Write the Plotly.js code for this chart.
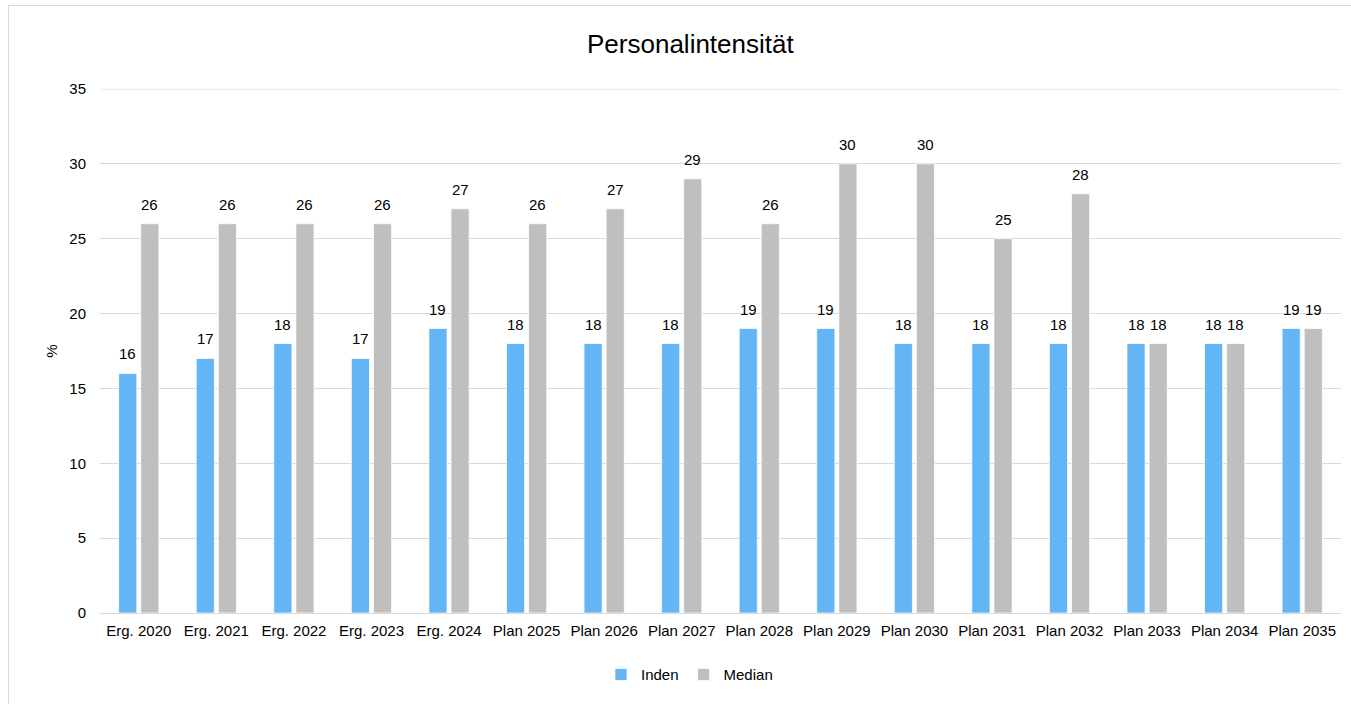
<!DOCTYPE html>
<html>
<head>
<meta charset="utf-8">
<script src="https://cdn.plot.ly/plotly-3.0.1.min.js"></script>
<style>
  html, body { margin: 0; padding: 0; background: #ffffff; }
  #frame { position: absolute; left: 8px; top: 5px; width: 1360px; height: 720px; border: 1px solid #d9d9d9; box-sizing: border-box; }
  #chart { position: absolute; left: 0; top: 0; width: 1351px; height: 704px; }
</style>
</head>
<body>
<div id="frame"></div>
<div id="chart"></div>
<script>
const categories = ["Erg. 2020","Erg. 2021","Erg. 2022","Erg. 2023","Erg. 2024","Plan 2025","Plan 2026","Plan 2027","Plan 2028","Plan 2029","Plan 2030","Plan 2031","Plan 2032","Plan 2033","Plan 2034","Plan 2035"];
const indenValues = [16,17,18,17,19,18,18,18,19,19,18,18,18,18,18,19];
const medianValues = [26,26,26,26,27,26,27,29,26,30,30,25,28,18,18,19];
const yTicks = [0,5,10,15,20,25,30,35];

const font = "Liberation Sans, Arial, sans-serif";
const labelColor = "#000000";
const bargap = 0.43;
const barOffset = (1 - bargap) / 4; // centre of each bar relative to its category

const traces = [
  {
    type: "bar", name: "Inden", x: categories, y: indenValues,
    marker: {color: "#63b5f5", line: {color: "#ffffff", width: 0.75}},
    hoverinfo: "x+y"
  },
  {
    type: "bar", name: "Median", x: categories, y: medianValues,
    marker: {color: "#bfbfbf", line: {color: "#ffffff", width: 0.75}},
    hoverinfo: "x+y"
  }
];

const annotations = [];
categories.forEach((c, i) => {
  annotations.push({x: i - barOffset, y: indenValues[i], xref: "x", yref: "y", text: String(indenValues[i]),
    showarrow: false, yanchor: "bottom", xanchor: "center", yshift: 9,
    font: {family: font, size: 15, color: labelColor}});
  annotations.push({x: i + barOffset, y: medianValues[i], xref: "x", yref: "y", text: String(medianValues[i]),
    showarrow: false, yanchor: "bottom", xanchor: "center", yshift: 9,
    font: {family: font, size: 15, color: labelColor}});
});

const layout = {
  width: 1351, height: 704,
  paper_bgcolor: "rgba(0,0,0,0)", plot_bgcolor: "rgba(0,0,0,0)",
  margin: {l: 100, r: 10, t: 89, b: 91, pad: 0},
  font: {family: font, size: 15, color: "#000000"},
  title: {text: "Personalintensität", font: {family: font, size: 26, color: "#000000"}, x: 0.511, xanchor: "center", y: 0.937, yanchor: "middle"},
  barmode: "group", bargap: bargap, bargroupgap: 0.18,
  annotations: annotations,
  shapes: [{type: "line", xref: "paper", x0: 0, x1: 1, yref: "y", y0: 35, y1: 35, line: {color: "#d9d9d9", width: 1}, layer: "below"}],
  xaxis: {
    type: "category", showgrid: false, showline: true, linecolor: "#d9d9d9", linewidth: 1,
    ticks: "", ticklabelstandoff: 4, tickfont: {family: font, size: 15, color: "#000000"}, automargin: false
  },
  yaxis: {
    range: [0, 35], tickvals: yTicks, ticktext: yTicks.map(String),
    showgrid: true, gridcolor: "#d9d9d9", gridwidth: 1, zeroline: false, showline: false,
    ticks: "", ticklen: 0, ticklabelstandoff: 13, tickfont: {family: font, size: 15, color: "#000000"},
    title: {text: "%", font: {family: font, size: 15, color: "#000000"}, standoff: 8},
    automargin: false
  },
  showlegend: true,
  legend: {orientation: "h", x: 0.475, xanchor: "center", y: -0.118, yanchor: "middle",
           font: {family: font, size: 15, color: "#000000"}, itemwidth: 30, tracegroupgap: 0,
           bgcolor: "rgba(0,0,0,0)"}
};

Plotly.newPlot("chart", traces, layout, {displayModeBar: false, staticPlot: true});
</script>
</body>
</html>
